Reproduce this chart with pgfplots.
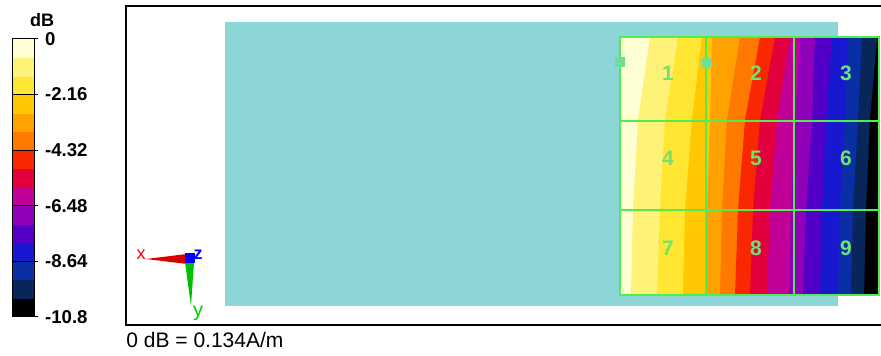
\documentclass[border=0pt]{standalone}
\usepackage{pgfplots}
\pgfplotsset{compat=1.18}
\usepackage{fontspec}
\setmainfont{Liberation Sans}
\definecolor{cyanbg}{RGB}{141,214,215}
\definecolor{gridg}{RGB}{80,236,80}
\definecolor{labg}{RGB}{112,226,112}
\definecolor{mintg}{RGB}{112,222,150}
\definecolor{c1}{RGB}{255,255,212}
\definecolor{c2}{RGB}{255,242,120}
\definecolor{c3}{RGB}{255,230,50}
\definecolor{c4}{RGB}{255,200,0}
\definecolor{c5}{RGB}{255,162,0}
\definecolor{c6}{RGB}{255,120,0}
\definecolor{c7}{RGB}{250,40,0}
\definecolor{c8}{RGB}{228,0,60}
\definecolor{c9}{RGB}{192,0,150}
\definecolor{c10}{RGB}{144,0,184}
\definecolor{c11}{RGB}{82,0,200}
\definecolor{c12}{RGB}{24,24,208}
\definecolor{c13}{RGB}{10,46,164}
\definecolor{c14}{RGB}{8,38,90}
\definecolor{c15}{RGB}{0,0,0}
\begin{document}
\begin{tikzpicture}
\useasboundingbox (0,0) rectangle (440.5pt,178pt);
\begin{axis}[
  at={(63pt,15.5pt)}, anchor=south west,
  scale only axis, width=379pt, height=159.5pt,
  xmin=126, xmax=884, ymin=6, ymax=325, y dir=reverse,
  xtick=\empty, ytick=\empty,
  axis line style={line width=1pt, black},
  clip=false,
  colormap={dbmap}{rgb255(0)=(0,0,0) rgb255(1)=(8,38,90) rgb255(2)=(10,46,164) rgb255(3)=(24,24,208) rgb255(4)=(82,0,200) rgb255(5)=(144,0,184) rgb255(6)=(192,0,150) rgb255(7)=(228,0,60) rgb255(8)=(250,40,0) rgb255(9)=(255,120,0) rgb255(10)=(255,162,0) rgb255(11)=(255,200,0) rgb255(12)=(255,230,50) rgb255(13)=(255,242,120) rgb255(14)=(255,255,212) rgb255(15)=(255,255,212)},
  colormap access=piecewise constant,
  point meta min=-10.8, point meta max=0,
  colorbar,
  colorbar style={
    at={(-2.5pt,158.5pt)}, anchor=north west,
    scale only axis, width=11pt, height=139pt,
    ytick={0,-2.16,-4.32,-6.48,-8.64,-10.8},
    yticklabels={\raisebox{-5pt}{0},-2.16,-4.32,-6.48,-8.64,-10.8},
    yticklabel style={font=\bfseries\fontsize{9.3}{10}\selectfont},
    ytick pos=right,
    ymajorgrids, major grid style={black, line width=0.5pt},
    major tick length=2pt, tick align=outside, tick style={black, line width=0.5pt},
    axis line style={black, line width=0.5pt},
    title={dB},
    title style={at={(1,1)}, anchor=base, xshift=4pt, yshift=0pt, font=\bfseries\fontsize{9}{10}\selectfont}
  }
]
% background plate
\addplot[fill=cyanbg, draw=none] coordinates {(225,22.5) (838,22.5) (838,306) (225,306)};
% contour bands (left boundary of each band at y = 37, 120, 210, 295)
\addplot[fill=c1, draw=none] coordinates {(620,37) (620,120) (620,210) (620,295) (879,295) (879,37)};
\addplot[fill=c2, draw=none] coordinates {(650,37) (638,120) (633,210) (631,295) (879,295) (879,37)};
\addplot[fill=c3, draw=none] coordinates {(678,37) (665,120) (660,210) (657,295) (879,295) (879,37)};
\addplot[fill=c4, draw=none] coordinates {(702,37) (692,120) (685,210) (683,295) (879,295) (879,37)};
\addplot[fill=c5, draw=none] coordinates {(712,37) (710,120) (707,210) (705,295) (879,295) (879,37)};
\addplot[fill=c6, draw=none] coordinates {(740,37) (727,120) (722,210) (720,295) (879,295) (879,37)};
\addplot[fill=c7, draw=none] coordinates {(760,37) (745,120) (738,210) (735,295) (879,295) (879,37)};
\addplot[fill=c8, draw=none] coordinates {(775,37) (760,120) (753,210) (750,295) (879,295) (879,37)};
\addplot[fill=c9, draw=none] coordinates {(790,37) (777,120) (770,210) (767,295) (879,295) (879,37)};
\addplot[fill=c10, draw=none] coordinates {(800,37) (795,120) (791,210) (789,295) (879,295) (879,37)};
\addplot[fill=c11, draw=none] coordinates {(815,37) (812,120) (806,210) (803,295) (879,295) (879,37)};
\addplot[fill=c12, draw=none] coordinates {(832,37) (826,120) (822,210) (820,295) (879,295) (879,37)};
\addplot[fill=c13, draw=none] coordinates {(848,37) (845,120) (840,210) (838,295) (879,295) (879,37)};
\addplot[fill=c14, draw=none] coordinates {(862,37) (858,120) (853,210) (851,295) (879,295) (879,37)};
\addplot[fill=c15, draw=none] coordinates {(877,37) (870,120) (866,210) (864,295) (879,295) (879,37)};
% measurement grid
\addplot[gridg, line width=1pt, mark=none] coordinates {(620,37) (879,37) (879,295) (620,295)} -- cycle;
\addplot[gridg, line width=1pt, mark=none] coordinates {(706,37) (706,295)};
\addplot[gridg, line width=1pt, mark=none] coordinates {(794,37) (794,295)};
\addplot[gridg, line width=1pt, mark=none] coordinates {(620,121) (879,121)};
\addplot[gridg, line width=1pt, mark=none] coordinates {(620,210) (879,210)};
\addplot[mintg, only marks, mark=square*, mark size=2.2pt, mark options={fill=mintg, draw=mintg}] coordinates {(620,62) (707,63)};
% cell numbers
\foreach \lx/\ly/\t in {668/73/1, 756/73/2, 846/73/3, 668/158/4, 756/158/5, 846/158/6, 668/248/7, 756/248/8, 846/248/9}{
  \edef\temp{\noexpand\node[labg, font=\noexpand\bfseries\noexpand\fontsize{10.5}{12}\noexpand\selectfont] at (axis cs:\lx,\ly) {\t};}
  \temp
}
% axis triad
\addplot[fill=red!85!black, draw=none] coordinates {(146,259) (187,254) (187,264)};
\addplot[fill=green!75!black, draw=none] coordinates {(185,262) (194,262) (191,306)};
\addplot[fill=blue, draw=none] coordinates {(185,253) (195,253) (195,263) (185,263)};
\node[red, font=\fontsize{9}{10}\selectfont, inner sep=0] at (axis cs:141,255) {x};
\node[blue, font=\bfseries\fontsize{9}{10}\selectfont, inner sep=0] at (axis cs:198,255) {z};
\node[green!80!black, font=\fontsize{10}{11}\selectfont, inner sep=0] at (axis cs:198,313) {y};
% footnote
\node[anchor=base west, inner sep=0, font=\fontsize{10.5}{12}\selectfont] at (axis cs:126,348) {0 dB = 0.134A/m};
\end{axis}
\end{tikzpicture}
\end{document}
